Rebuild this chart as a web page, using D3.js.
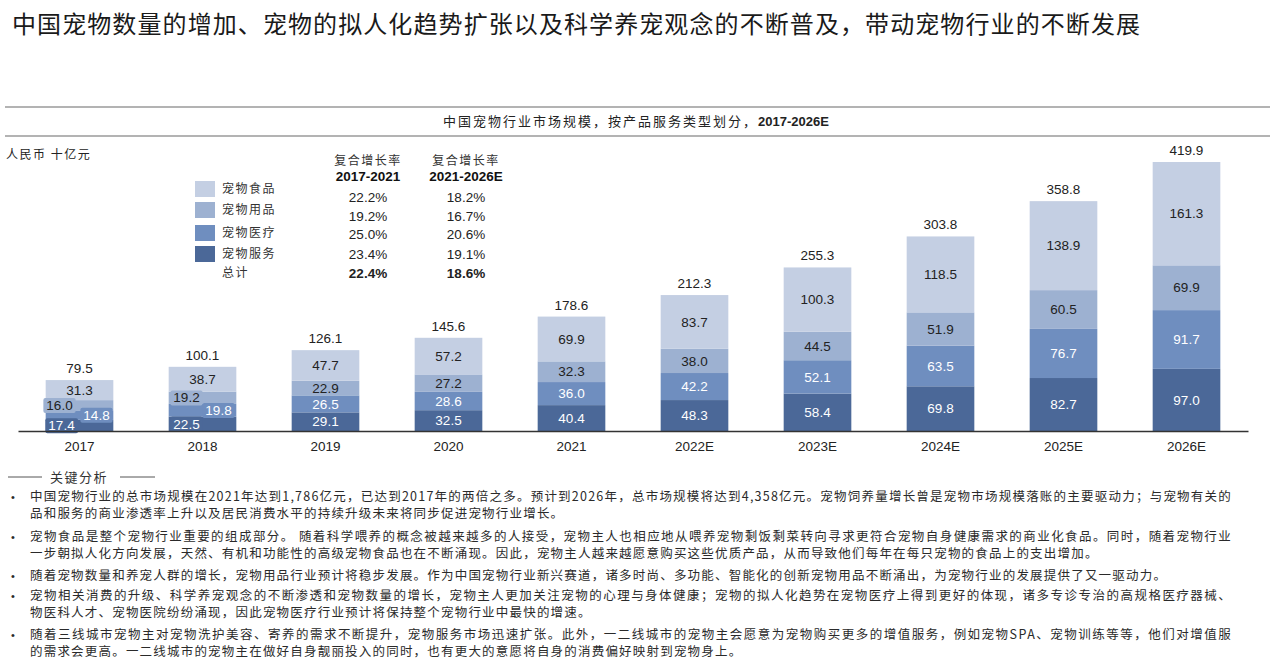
<!DOCTYPE html>
<html>
<head>
<meta charset="utf-8">
<script src="https://cdn.jsdelivr.net/npm/d3@7"></script>
<style>
  body { margin: 0; background: #fff; }
  svg { display: block; }
</style>
</head>
<body>
<div class="chart"></div>
<script>
const years = ["2017", "2018", "2019", "2020", "2021", "2022E", "2023E", "2024E", "2025E", "2026E"];
const seriesNames = ["宠物服务", "宠物医疗", "宠物用品", "宠物食品"];
const service = [17.4, 22.5, 29.1, 32.5, 40.4, 48.3, 58.4, 69.8, 82.7, 97.0];
const medical = [14.8, 19.8, 26.5, 28.6, 36.0, 42.2, 52.1, 63.5, 76.7, 91.7];
const supplies = [16.0, 19.2, 22.9, 27.2, 32.3, 38.0, 44.5, 51.9, 60.5, 69.9];
const food = [31.3, 38.7, 47.7, 57.2, 69.9, 83.7, 100.3, 118.5, 138.9, 161.3];
const totals = [79.5, 100.1, 126.1, 145.6, 178.6, 212.3, 255.3, 303.8, 358.8, 419.9];

const legendOrder = ["宠物食品", "宠物用品", "宠物医疗", "宠物服务"];
const cagrHeads = ["2017-2021", "2021-2026E"];
const cagr1721 = ["22.2%", "19.2%", "25.0%", "23.4%", "22.4%"];
const cagr2126 = ["18.2%", "16.7%", "20.6%", "19.1%", "18.6%"];

const title = "中国宠物数量的增加、宠物的拟人化趋势扩张以及科学养宠观念的不断普及，带动宠物行业的不断发展";
const subtitle = "中国宠物行业市场规模，按产品服务类型划分，";
const subtitleYears = "2017-2026E";
const unit = "人民币 十亿元";
const notesHead = "关键分析";
const notes = [
  ["中国宠物行业的总市场规模在2021年达到1,786亿元，已达到2017年的两倍之多。预计到2026年，总市场规模将达到4,358亿元。宠物饲养量增长曾是宠物市场规模落账的主要驱动力；与宠物有关的",
   "品和服务的商业渗透率上升以及居民消费水平的持续升级未来将同步促进宠物行业增长。"],
  ["宠物食品是整个宠物行业重要的组成部分。 随着科学喂养的概念被越来越多的人接受，宠物主人也相应地从喂养宠物剩饭剩菜转向寻求更符合宠物自身健康需求的商业化食品。同时，随着宠物行业",
   "一步朝拟人化方向发展，天然、有机和功能性的高级宠物食品也在不断涌现。因此，宠物主人越来越愿意购买这些优质产品，从而导致他们每年在每只宠物的食品上的支出增加。"],
  ["随着宠物数量和养宠人群的增长，宠物用品行业预计将稳步发展。作为中国宠物行业新兴赛道，诸多时尚、多功能、智能化的创新宠物用品不断涌出，为宠物行业的发展提供了又一驱动力。"],
  ["宠物相关消费的升级、科学养宠观念的不断渗透和宠物数量的增长，宠物主人更加关注宠物的心理与身体健康；宠物的拟人化趋势在宠物医疗上得到更好的体现，诸多专诊专治的高规格医疗器械、",
   "物医科人才、宠物医院纷纷涌现，因此宠物医疗行业预计将保持整个宠物行业中最快的增速。"],
  ["随着三线城市宠物主对宠物洗护美容、寄养的需求不断提升，宠物服务市场迅速扩张。此外，一二线城市的宠物主会愿意为宠物购买更多的增值服务，例如宠物SPA、宠物训练等等，他们对增值服",
   "的需求会更高。一二线城市的宠物主在做好自身靓丽投入的同时，也有更大的意愿将自身的消费偏好映射到宠物身上。"]
];

// layout only: sideways shift of labels in the two short bars
const crowdedShift = { "2017": [-18, 17, -20, 0], "2018": [-16, 16, -16, 0] };

const cjk = "'Noto Sans CJK SC', 'Noto Sans', sans-serif";
const latin = "'Liberation Sans', Arial, sans-serif";

const width = 1280, height = 669;
const baseY = 431;

const svg = d3.select(".chart").append("svg")
    .attr("width", width)
    .attr("height", height);

const colour = d3.scaleOrdinal()
    .domain(seriesNames)
    .range(["#4b6898", "#6f8ebf", "#9db1d1", "#c4cfe3"]);
const labelColour = d3.scaleOrdinal()
    .domain(seriesNames)
    .range(["#ffffff", "#ffffff", "#222222", "#222222"]);

// title
svg.append("text")
    .attr("x", 12).attr("y", 33)
    .attr("font-family", cjk).attr("font-size", 24)
    .attr("fill", "#1a1a1a")
    .attr("textLength", 1128).attr("lengthAdjust", "spacing")
    .text(title);

// chart header band
svg.append("line").attr("x1", 5).attr("x2", 1270).attr("y1", 107).attr("y2", 107)
    .attr("stroke", "#9a9a9a").attr("stroke-width", 1.5);
svg.append("line").attr("x1", 5).attr("x2", 1270).attr("y1", 136).attr("y2", 136)
    .attr("stroke", "#9a9a9a").attr("stroke-width", 1.5);
const sub = svg.append("text")
    .attr("x", 636).attr("y", 126)
    .attr("text-anchor", "middle")
    .attr("fill", "#222");
sub.append("tspan").attr("font-family", cjk).attr("font-size", 13).attr("letter-spacing", 2).text(subtitle);
sub.append("tspan").attr("font-family", latin).attr("font-size", 13).attr("font-weight", "bold").text(subtitleYears);

svg.append("text")
    .attr("x", 6).attr("y", 159)
    .attr("font-family", cjk).attr("font-size", 12).attr("letter-spacing", 1.5)
    .attr("fill", "#222")
    .text(unit);

// scales
const x = d3.scaleBand()
    .domain(years)
    .range([18, 1248])
    .paddingInner(0.45)
    .paddingOuter(0.225);

const y = d3.scaleLinear()
    .domain([0, 419.9])
    .range([baseY, 162]);

const table = years.map((yr, i) => ({
    year: yr,
    "宠物服务": service[i],
    "宠物医疗": medical[i],
    "宠物用品": supplies[i],
    "宠物食品": food[i],
    total: totals[i]
}));

const stacked = d3.stack().keys(seriesNames)(table);

const layers = svg.append("g").selectAll("g")
    .data(stacked)
    .join("g")
    .attr("fill", d => colour(d.key));

layers.selectAll("rect")
    .data(d => d)
    .join("rect")
    .attr("x", d => x(d.data.year))
    .attr("width", x.bandwidth())
    .attr("y", d => y(d[1]))
    .attr("height", d => y(d[0]) - y(d[1]));

// segment labels, drawn top layer first so lower boxes sit on top
const labelG = svg.append("g");
stacked.slice().reverse().forEach(layer => {
    const si = seriesNames.indexOf(layer.key);
    layer.forEach(d => {
        const shift = crowdedShift[d.data.year] ? crowdedShift[d.data.year][si] : 0;
        const cx = x(d.data.year) + x.bandwidth() / 2 + shift;
        const cy = (y(d[0]) + y(d[1])) / 2;
        const g = labelG.append("g");
        const t = g.append("text")
            .attr("x", cx).attr("y", cy)
            .attr("dy", "0.35em")
            .attr("text-anchor", "middle")
            .attr("font-family", latin).attr("font-size", 13.5)
            .attr("fill", labelColour(layer.key))
            .text(d.data[layer.key].toFixed(1));
        if (shift !== 0) {
            const b = t.node().getBBox();
            g.insert("rect", "text")
                .attr("x", b.x - 3).attr("y", b.y)
                .attr("width", b.width + 6).attr("height", b.height)
                .attr("rx", 2)
                .attr("fill", colour(layer.key));
        }
    });
});

// totals
svg.append("g").selectAll("text")
    .data(table)
    .join("text")
    .attr("x", d => x(d.year) + x.bandwidth() / 2)
    .attr("y", d => y(d.total) - 7)
    .attr("text-anchor", "middle")
    .attr("font-family", latin).attr("font-size", 13.5)
    .attr("fill", "#222")
    .text(d => d.total.toFixed(1));

// axis
const xAxis = d3.axisBottom(x).tickSize(0).tickPadding(10);
const axisG = svg.append("g")
    .attr("transform", `translate(0,${baseY})`)
    .call(xAxis);
axisG.select(".domain").attr("stroke", "#333").attr("stroke-width", 1.5);
axisG.selectAll("text")
    .attr("font-family", latin).attr("font-size", 13.5)
    .attr("fill", "#222");

// legend + CAGR table
const rowY = [189, 210, 233, 254, 273];
const legend = svg.append("g");
legend.selectAll("rect")
    .data(legendOrder)
    .join("rect")
    .attr("x", 195).attr("width", 20)
    .attr("y", (_, i) => rowY[i] - 8).attr("height", 16)
    .attr("fill", d => colour(d));
legend.selectAll("text")
    .data(legendOrder.concat(["总计"]))
    .join("text")
    .attr("x", 222).attr("y", (_, i) => rowY[i])
    .attr("dy", "0.35em")
    .attr("font-family", cjk).attr("font-size", 12).attr("letter-spacing", 1.5)
    .attr("fill", "#333")
    .text(d => d);

[cagr1721, cagr2126].forEach((col, c) => {
    const cx = [368, 466][c];
    const g = svg.append("g");
    g.append("text")
        .attr("x", cx).attr("y", 165)
        .attr("text-anchor", "middle")
        .attr("font-family", cjk).attr("font-size", 12).attr("letter-spacing", 1.5)
        .attr("fill", "#333")
        .text("复合增长率");
    g.append("text")
        .attr("x", cx).attr("y", 181)
        .attr("text-anchor", "middle")
        .attr("font-family", latin).attr("font-size", 13.5).attr("font-weight", "bold")
        .attr("fill", "#111")
        .text(cagrHeads[c]);
    g.selectAll("text.v")
        .data(col)
        .join("text")
        .attr("class", "v")
        .attr("x", cx)
        .attr("y", (_, i) => [197, 216, 234, 254, 273][i])
        .attr("dy", "0.35em")
        .attr("text-anchor", "middle")
        .attr("font-family", latin).attr("font-size", 13.5)
        .attr("font-weight", (_, i) => i === 4 ? "bold" : "normal")
        .attr("fill", "#222")
        .text(d => d);
});

// key analysis notes
svg.append("line").attr("x1", 8).attr("x2", 42).attr("y1", 477).attr("y2", 477)
    .attr("stroke", "#555").attr("stroke-width", 1);
svg.append("line").attr("x1", 120).attr("x2", 155).attr("y1", 477).attr("y2", 477)
    .attr("stroke", "#555").attr("stroke-width", 1);
svg.append("text")
    .attr("x", 50).attr("y", 477).attr("dy", "0.35em")
    .attr("font-family", cjk).attr("font-size", 13).attr("letter-spacing", 1.5)
    .attr("fill", "#333")
    .text(notesHead);

const noteTop = [497, 537, 576, 596, 635];
const notesG = svg.append("g")
    .attr("font-family", cjk).attr("font-size", 12.5)
    .attr("fill", "#2a2a2a");
notes.forEach((lines, i) => {
    notesG.append("text")
        .attr("x", 11).attr("y", noteTop[i]).attr("dy", "0.35em")
        .attr("font-family", latin).attr("font-size", 11)
        .text("•");
    lines.forEach((line, j) => {
        const t = notesG.append("text")
            .attr("x", 30).attr("y", noteTop[i] + j * 17).attr("dy", "0.35em")
            .attr("letter-spacing", 1.2)
            .text(line);
        if (lines.length > 1 && j === 0) {
            t.attr("textLength", 1202).attr("lengthAdjust", "spacing");
        }
    });
});
</script>
</body>
</html>
